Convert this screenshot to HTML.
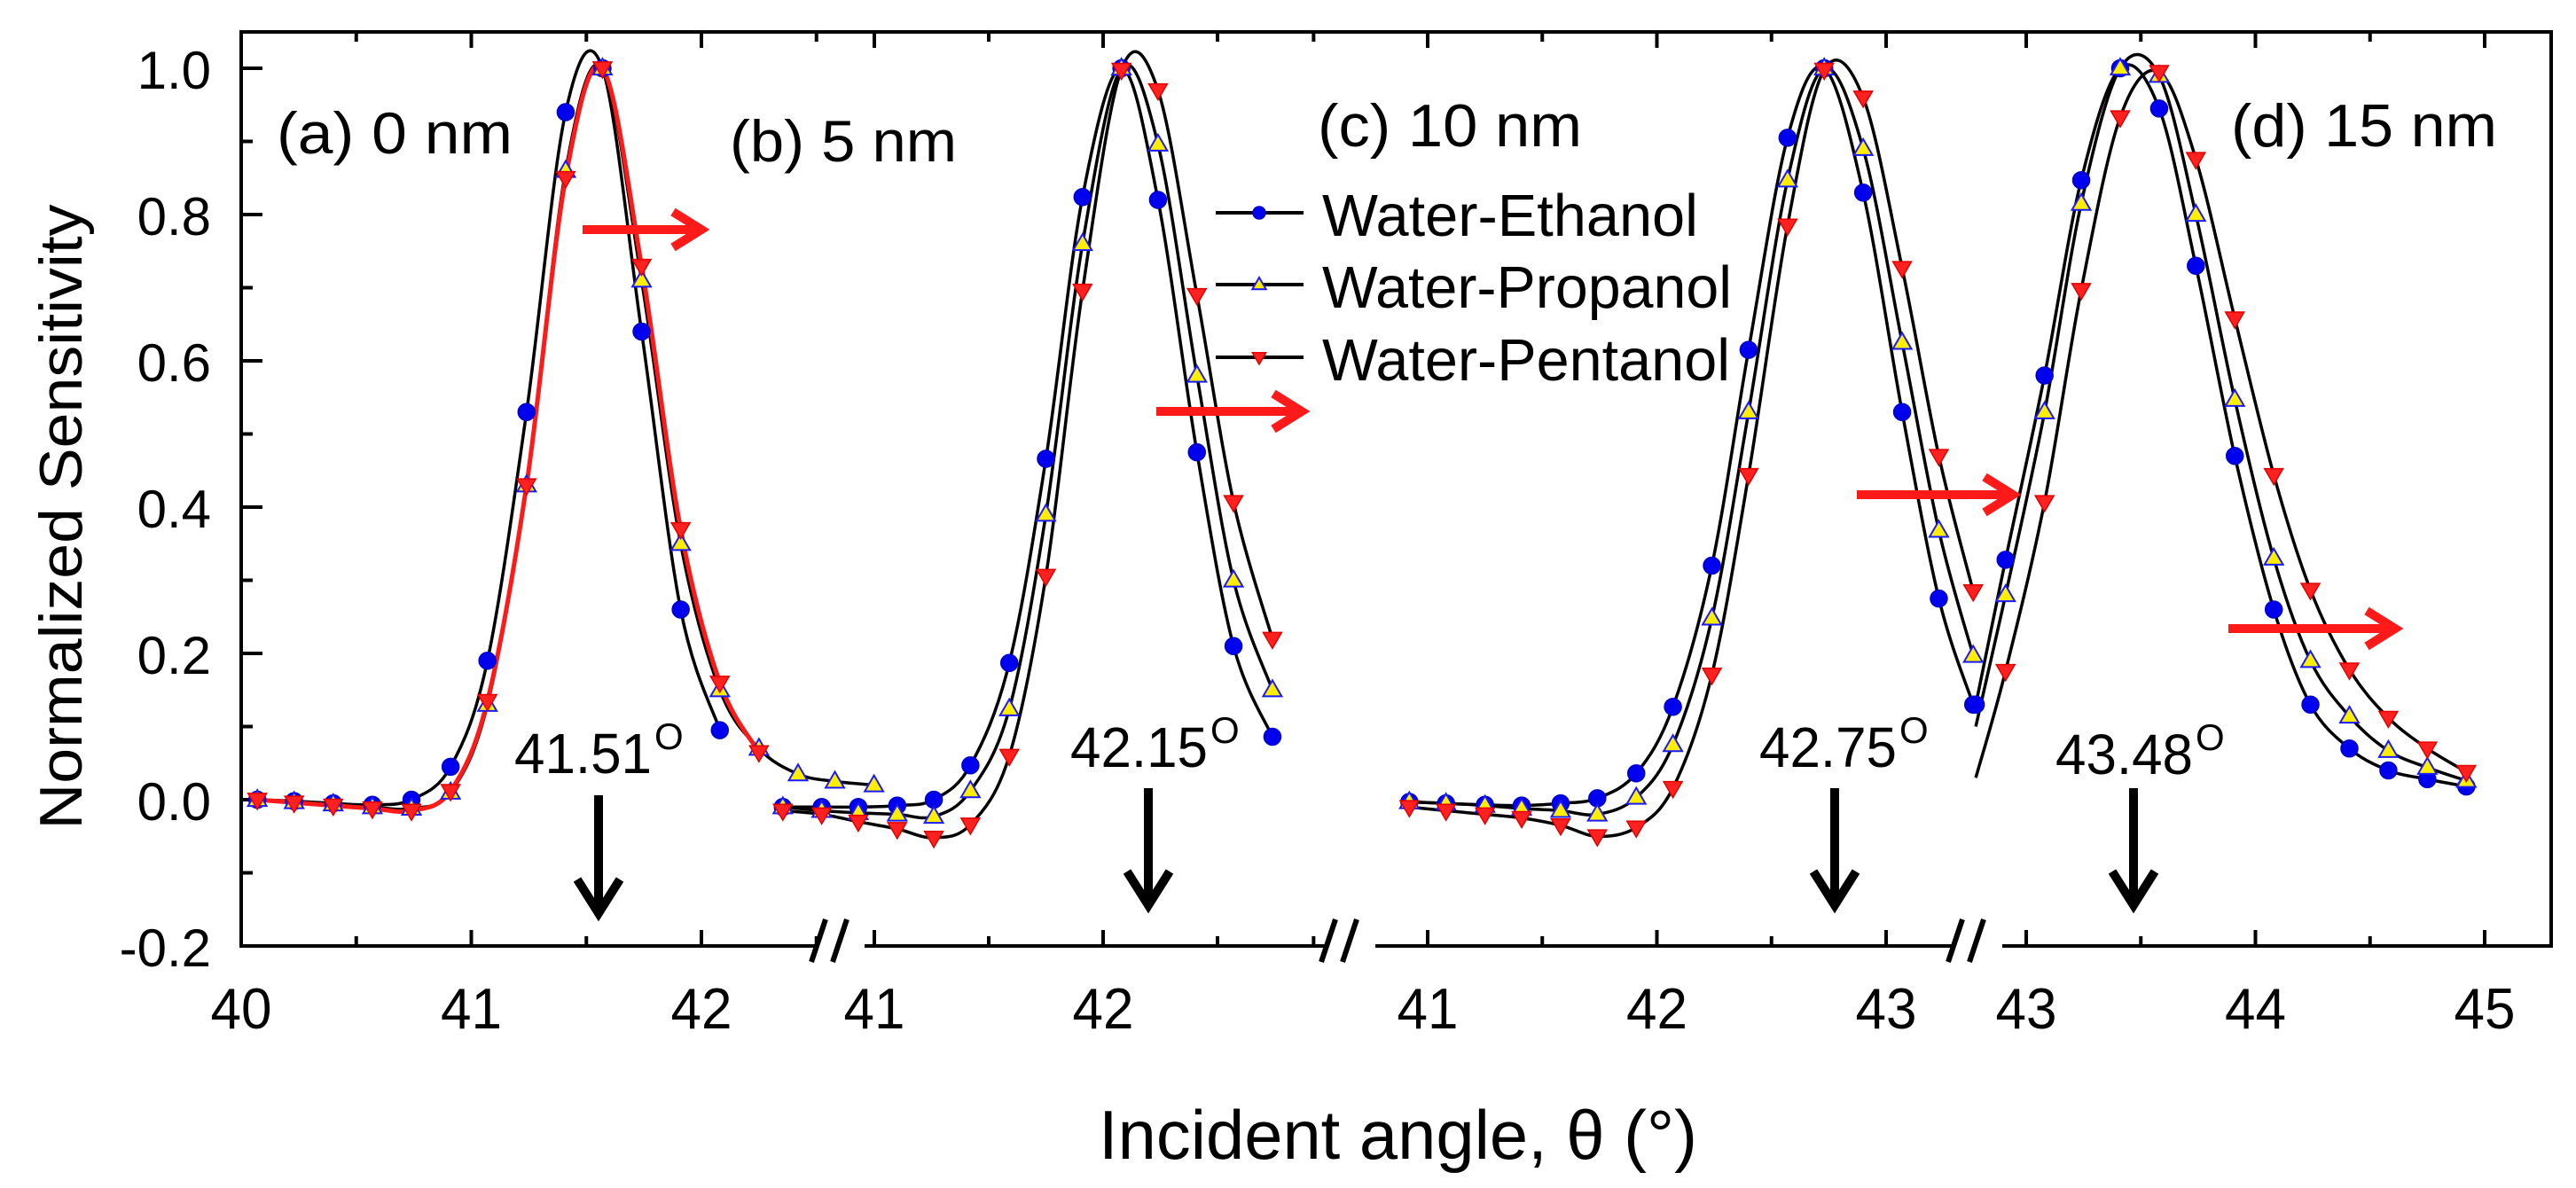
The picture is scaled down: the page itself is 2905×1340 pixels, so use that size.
<!DOCTYPE html>
<html><head><meta charset="utf-8"><style>
html,body{margin:0;padding:0;background:#fff;}
svg{display:block;font-family:"Liberation Sans",Arial,sans-serif;}
</style></head><body>
<svg id="chart" width="2905" height="1340" viewBox="0 0 2905 1340" xmlns="http://www.w3.org/2000/svg">
<rect x="0" y="0" width="2905" height="1340" fill="#fff"/>
<g id="axes"></g>
<g id="curves"></g>
<g id="markers"></g>
<g id="annot">
  <text x="312" y="173" font-size="66" textLength="266" lengthAdjust="spacingAndGlyphs">(a) 0 nm</text>
  <text x="823" y="182" font-size="66" textLength="256" lengthAdjust="spacingAndGlyphs">(b) 5 nm</text>
  <text x="1486" y="165" font-size="68" textLength="298" lengthAdjust="spacingAndGlyphs">(c) 10 nm</text>
  <text x="2516" y="165" font-size="68" textLength="300" lengthAdjust="spacingAndGlyphs">(d) 15 nm</text>
  <text x="580" y="872" font-size="64" textLength="155" lengthAdjust="spacingAndGlyphs">41.51</text>
  <text x="738" y="845" font-size="42">O</text>
  <text x="1207" y="865" font-size="64" textLength="155" lengthAdjust="spacingAndGlyphs">42.15</text>
  <text x="1365" y="838" font-size="42">O</text>
  <text x="1984" y="865" font-size="64" textLength="155" lengthAdjust="spacingAndGlyphs">42.75</text>
  <text x="2142" y="838" font-size="42">O</text>
  <text x="2318" y="873" font-size="64" textLength="155" lengthAdjust="spacingAndGlyphs">43.48</text>
  <text x="2476" y="846" font-size="42">O</text>
  <text transform="translate(92,583) rotate(-90)" text-anchor="middle" font-size="68" textLength="705" lengthAdjust="spacingAndGlyphs">Normalized Sensitivity</text>
  <text x="1239" y="1307" font-size="78" textLength="675" lengthAdjust="spacingAndGlyphs">Incident angle, θ (°)</text>
</g>
<g id="legend"></g>
</svg>
<script>
const NS="http://www.w3.org/2000/svg";
// ---- data ----
const segAx=[40.07,40.23,40.40,40.57,40.74,40.91,41.07,41.24,41.41,41.57,41.74,41.91,42.08,42.25,42.42,42.58,42.75];
const segAeth=[0,-0.002,-0.005,-0.007,0,0.045,0.19,0.53,0.94,1.0,0.64,0.26,0.095,null,null,null,null];
const segAprop=[0,-0.003,-0.006,-0.01,-0.012,0.01,0.13,0.43,0.86,1.0,0.71,0.35,0.15,0.07,0.035,0.025,0.02];
const segApent=[0,-0.004,-0.008,-0.012,-0.015,0.012,0.135,0.43,0.85,1.0,0.73,0.37,0.16,0.065,null,null,null];
const segBx=[40.6,40.77,40.93,41.1,41.26,41.42,41.59,41.75,41.91,42.08,42.24,42.41,42.57,42.74];
const segBeth=[-0.01,-0.01,-0.01,-0.008,0.0,0.047,0.187,0.466,0.824,1.0,0.82,0.475,0.21,0.086];
const segBprop=[-0.01,-0.015,-0.018,-0.02,-0.023,0.012,0.124,0.39,0.76,1.0,0.896,0.58,0.30,0.15];
const segBpent=[-0.015,-0.02,-0.03,-0.04,-0.052,-0.034,0.06,0.306,0.696,0.998,0.97,0.69,0.407,0.22];
const segCx=[40.92,41.08,41.25,41.41,41.58,41.74,41.91,42.07,42.24,42.40,42.57,42.73,42.90,43.07,43.23,43.38];
const segCeth=[-0.003,-0.005,-0.007,-0.008,-0.005,0.002,0.036,0.127,0.32,0.615,0.905,1.0,0.83,0.53,0.275,0.13];
const segCprop=[-0.003,-0.005,-0.008,-0.012,-0.015,-0.02,0.003,0.075,0.248,0.53,0.847,1.0,0.89,0.625,0.368,0.197];
const segCpent=[-0.01,-0.015,-0.02,-0.025,-0.035,-0.05,-0.038,0.016,0.171,0.444,0.785,0.998,0.96,0.727,0.47,0.285];
const segDx=[42.78,42.91,43.08,43.24,43.41,43.58,43.74,43.91,44.08,44.24,44.41,44.58,44.75,44.92];
const segDeth=[0.13,0.328,0.58,0.847,1.0,0.945,0.73,0.47,0.26,0.13,0.07,0.04,0.028,0.018];
const segDprop=[0.10,0.28,0.53,0.815,1.0,0.99,0.8,0.547,0.33,0.19,0.114,0.067,0.044,0.026];
const segDpent=[0.03,0.176,0.407,0.697,0.933,0.995,0.876,0.658,0.444,0.287,0.178,0.112,0.07,0.038];
const yTicks=[-0.2,0,0.2,0.4,0.6,0.8,1.0];
const yTickLabels=["-0.2","0.0","0.2","0.4","0.6","0.8","1.0"];
const seriesNames=["Water-Ethanol","Water-Propanol","Water-Pentanol"];

// ---- scales ----
const Y=v=>902-v*825;
const segs=[
 {id:"a",x0:40,px0:272,k:259.5,lo:272,hi:923,ticks:[40,40.5,41,41.5,42,42.5],labels:[40,41,42],xs:segAx,ys:[segAeth,segAprop,segApent],skip0:false,redLine:true},
 {id:"b",x0:41,px0:986,k:258,lo:975,hi:1496,ticks:[41,41.5,42,42.5,42.92],labels:[41,42],xs:segBx,ys:[segBeth,segBprop,segBpent],skip0:false},
 {id:"c",x0:41,px0:1610,k:258.5,lo:1551,hi:2203,ticks:[41,41.5,42,42.5,43],labels:[41,42,43],xs:segCx,ys:[segCeth,segCprop,segCpent],skip0:false},
 {id:"d",x0:43,px0:2285,k:258.5,lo:2258,hi:2877,ticks:[43,43.5,44,44.5,45],labels:[43,44,45],xs:segDx,ys:[segDeth,segDprop,segDpent],skip0:true}
];
function X(s,v){return s.px0+(v-s.x0)*s.k;}
function mk(tag,attrs,parent){const e=document.createElementNS(NS,tag);for(const k in attrs)e.setAttribute(k,attrs[k]);parent.appendChild(e);return e;}

const axes=document.getElementById('axes');
const curves=document.getElementById('curves');
const markers=document.getElementById('markers');
const legend=document.getElementById('legend');
const L="#000";
let e;
e=mk('line',{x1:272,y1:36,x2:2877,y2:36,stroke:L,'stroke-width':4},axes);


e=mk('line',{x1:272,y1:34,x2:272,y2:1069,stroke:L,'stroke-width':4},axes);


e=mk('line',{x1:2877,y1:34,x2:2877,y2:1069,stroke:L,'stroke-width':4},axes);


for(let i=0;i<yTicks.length;i++){
  const y=Y(yTicks[i]);
  e=mk('line',{x1:272,y1:y,x2:296,y2:y,stroke:L,'stroke-width':4},axes);
  
  
  e=mk('text',{x:238,y:y+23,'text-anchor':'end','font-size':60},axes);
  e.textContent=yTickLabels[i];
  
  
  if(i<yTicks.length-1){
    const ym=Y(yTicks[i]+0.1);
    e=mk('line',{x1:272,y1:ym,x2:285,y2:ym,stroke:L,'stroke-width':4},axes);
    
    
  }
}
segs.forEach(s=>{
  e=mk('line',{x1:s.lo,y1:1067,x2:s.hi,y2:1067,stroke:L,'stroke-width':4},axes);
  
  
  s.ticks.forEach(t=>{
    const x=X(s,t);const major=Number.isInteger(t);const len=major?18:11;
    e=mk('line',{x1:x,y1:1067,x2:x,y2:1067-len,stroke:L,'stroke-width':4},axes);
    
    
    e=mk('line',{x1:x,y1:36,x2:x,y2:36+len,stroke:L,'stroke-width':4},axes);
    
    
  });
  s.labels.forEach(t=>{
    e=mk('text',{x:X(s,t),y:1160,'text-anchor':'middle','font-size':65,textLength:69,lengthAdjust:'spacingAndGlyphs'},axes);
    e.textContent=String(t);
    
    
  });
});
[925,1500,2207].forEach(x=>{
  for(const dx of [0,24]){
    e=mk('line',{x1:x+dx+6,y1:1037,x2:x+dx-10,y2:1085,stroke:L,'stroke-width':6},axes);
    
    
  }
});
function pathFrom(pts){
  let d="M"+pts[0][0]+","+pts[0][1];
  for(let i=0;i<pts.length-1;i++){
    const p0=pts[Math.max(0,i-1)],p1=pts[i],p2=pts[i+1],p3=pts[Math.min(pts.length-1,i+2)];
    const c1=[p1[0]+(p2[0]-p0[0])/6,p1[1]+(p2[1]-p0[1])/6];
    const c2=[p2[0]-(p3[0]-p1[0])/6,p2[1]-(p3[1]-p1[1])/6];
    d+=" C"+c1[0].toFixed(1)+","+c1[1].toFixed(1)+" "+c2[0].toFixed(1)+","+c2[1].toFixed(1)+" "+p2[0].toFixed(1)+","+p2[1].toFixed(1);
  }
  return d;
}
function marker(kind,x,y,parent,r){
  let el;
  if(kind===0){el=mk('circle',{cx:x,cy:y,r:r,fill:'#0000ee',stroke:'#0000cc','stroke-width':1.5},parent);}
  else if(kind===1){el=mk('polygon',{points:`${x},${y-r*1.15} ${x-r*1.1},${y+r*0.75} ${x+r*1.1},${y+r*0.75}`,fill:'#ffee00',stroke:'#1a1aff','stroke-width':2},parent);}
  else {el=mk('polygon',{points:`${x},${y+r*1.15} ${x-r*1.1},${y-r*0.75} ${x+r*1.1},${y-r*0.75}`,fill:'#ff2020',stroke:'#e00000','stroke-width':1.5},parent);}
  return el;
}
const snames=["ethanol","propanol","pentanol"];
segs.forEach(s=>{
  for(let j=0;j<3;j++){
    const pts=[];
    s.xs.forEach((xv,i)=>{const v=s.ys[j][i];if(v!==null)pts.push([X(s,xv),Y(v)]);});
    const red=(s.redLine&&j===2);
    const p=mk('path',{d:pathFrom(pts),fill:'none',stroke:red?'#ff1a1a':'#000','stroke-width':red?5:3.5},curves);
    
    
  }
  for(let j=0;j<3;j++){
    s.xs.forEach((xv,i)=>{
      const v=s.ys[j][i];if(v===null)return;
      if(s.skip0&&i===0&&j>0)return;
      const m=marker(j,X(s,xv),Y(v),markers,9.5);
      
      
    });
  }
});
function arrowH(x1,x2,y,name){
  const g=mk('g',{stroke:'#ff1a1a','stroke-width':10,fill:'none'},document.getElementById('annot'));
  
  
  mk('line',{x1:x1,y1:y,x2:x2-4,y2:y},g);
  mk('polyline',{points:`${x2-32},${y-20} ${x2},${y} ${x2-32},${y+20}`},g);
}
function arrowV(x,y1,y2,name){
  const g=mk('g',{stroke:'#000','stroke-width':10,fill:'none'},document.getElementById('annot'));
  
  
  mk('line',{x1:x,y1:y1,x2:x,y2:y2-4},g);
  mk('polyline',{points:`${x-24},${y2-38} ${x},${y2} ${x+24},${y2-38}`},g);
}
arrowH(657,791,259,'shift-arrow-a');
arrowH(1304,1468,464,'shift-arrow-b');
arrowH(2094,2270,558,'shift-arrow-c');
arrowH(2513,2701,709,'shift-arrow-d');
arrowV(675,897,1030,'peak-arrow-a');
arrowV(1295,889,1021,'peak-arrow-b');
arrowV(2069,889,1021,'peak-arrow-c');
arrowV(2406,889,1021,'peak-arrow-d');
const legY=[240,321,403];
const legW=[424,462,460];
for(let j=0;j<3;j++){
  const g=mk('g',{},legend);
  
  
  mk('line',{x1:1371,y1:legY[j],x2:1470,y2:legY[j],stroke:'#000','stroke-width':4},g);
  marker(j,1420,legY[j],g,7);
  const t=mk('text',{x:1491,y:legY[j]+26,'font-size':67,textLength:legW[j],lengthAdjust:'spacingAndGlyphs'},g);
  t.textContent=seriesNames[j];
}
</script>
</body></html>
